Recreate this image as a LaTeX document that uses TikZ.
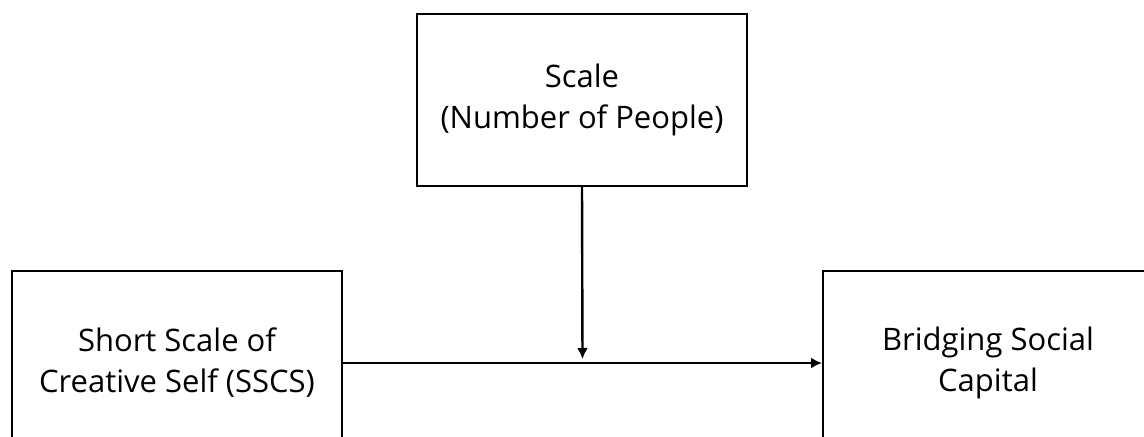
\documentclass[tikz,border=0pt]{standalone}
\usepackage{fontspec}
\setmainfont{Open Sans}
\usetikzlibrary{calc}
\usetikzlibrary{arrows.meta}
\usetikzlibrary{positioning}

\tikzset{
  varbox/.style={draw=black, line width=1pt, rectangle, align=center,
    font=\fontsize{15.5}{20.5}\selectfont, inner sep=0pt},
  effect/.style={line width=1.2pt, -{Latex[length=5.5pt,width=5.5pt]}}
}

\begin{document}
\begin{tikzpicture}[x=0.5pt,y=-0.5pt]

  % page frame, the side boxes run off the edge
  \clip (0,0) rectangle (1144,437);

  % setup the nodes
  \node[varbox, minimum width=165pt, minimum height=86pt] (Scale) at (582,100)
    {Scale\\(Number of People)};
  \node[varbox, minimum width=165pt, minimum height=92pt] (SSCS) at (177,363)
    {Short Scale of\\Creative Self (SSCS)};
  \node[varbox, minimum width=165pt, minimum height=92pt] (BSC) at (988,363)
    {Bridging Social\\Capital};

  % main path and moderator
  \draw[effect] (SSCS.east) -- (BSC.west);
  \coordinate (Mod) at ($(SSCS.east)!0.5!(BSC.west)$);
  \draw[effect, shorten >=2pt] (Scale.south) -- (Mod);

\end{tikzpicture}
\end{document}
